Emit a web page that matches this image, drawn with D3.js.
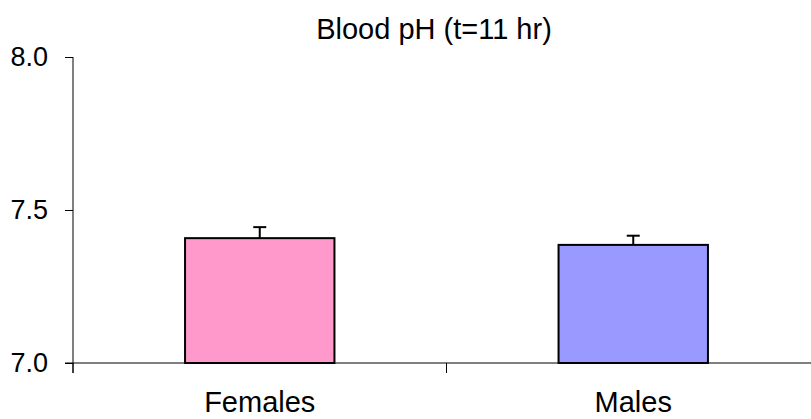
<!DOCTYPE html>
<html><head><meta charset="utf-8">
<script src="https://cdn.jsdelivr.net/npm/d3@7/dist/d3.min.js"></script>
<style>body{margin:0;background:#fff}svg{display:block}text{font-family:"Liberation Sans",Arial,sans-serif;fill:#000}</style>
</head><body><svg id="c" width="811" height="419"></svg>
<script>
const categories = ["Females", "Males"];
const values = [7.408, 7.386];
const errors = [0.036, 0.030];
const colors = ["#FF99CC", "#9999FF"];
const yTicks = [7.0, 7.5, 8.0];
const title = "Blood pH (t=11 hr)";

const svg = d3.select("#c");
const x0 = 73, step = 373.5;
const x = d3.scaleBand().domain(categories).range([x0, x0 + 2 * step]).paddingInner(0.6).paddingOuter(0.3);
const y = d3.scaleLinear().domain([7, 8]).range([363, 57]);

// y axis
const yAxis = d3.axisLeft(y).tickValues(yTicks).tickFormat(d3.format(".1f")).tickSize(8).tickPadding(17);
const gy = svg.append("g").attr("transform", `translate(${x0},0)`).call(yAxis);
gy.select(".domain").attr("d", `M0,${y(8)}V${y(7) + 10}`).attr("stroke", "#000");
gy.selectAll(".tick line").attr("stroke", "#000");
gy.selectAll(".tick text").style("font-size", "27px").attr("fill", "#000");

// x axis
const gx = svg.append("g").attr("transform", `translate(0,${y(7)})`);
gx.append("line").attr("x1", x0 - 8).attr("x2", 811).attr("y1", 0).attr("y2", 0).attr("stroke", "#000");
const bounds = [x0, x0 + step, x0 + 2 * step];
gx.selectAll("line.t").data(bounds).enter().append("line").attr("class", "t")
  .attr("x1", d => d).attr("x2", d => d).attr("y1", 0).attr("y2", 10).attr("stroke", "#000");
gx.selectAll("text").data(categories).enter().append("text")
  .attr("x", d => x(d) + x.bandwidth() / 2).attr("y", 49)
  .attr("text-anchor", "middle").style("font-size", "29px").text(d => d);

// bars
const data = categories.map((c, i) => ({c, v: values[i], e: errors[i], col: colors[i]}));
svg.selectAll("rect.bar").data(data).enter().append("rect").attr("class", "bar")
  .attr("x", d => x(d.c)).attr("y", d => y(d.v))
  .attr("width", x.bandwidth()).attr("height", d => y(7) - y(d.v))
  .attr("fill", d => d.col).attr("stroke", "#000").attr("stroke-width", 2);

// error bars
const eb = svg.selectAll("g.eb").data(data).enter().append("g").attr("class", "eb");
eb.append("line").attr("x1", d => x(d.c) + x.bandwidth() / 2).attr("x2", d => x(d.c) + x.bandwidth() / 2)
  .attr("y1", d => y(d.v)).attr("y2", d => y(d.v + d.e)).attr("stroke", "#000").attr("stroke-width", 2);
eb.append("line").attr("x1", d => x(d.c) + x.bandwidth() / 2 - 6.5).attr("x2", d => x(d.c) + x.bandwidth() / 2 + 6.5)
  .attr("y1", d => y(d.v + d.e)).attr("y2", d => y(d.v + d.e)).attr("stroke", "#000").attr("stroke-width", 2);

// title
svg.append("text").attr("x", 434).attr("y", 39).attr("text-anchor", "middle").style("font-size", "29px").text(title);
</script></body></html>
